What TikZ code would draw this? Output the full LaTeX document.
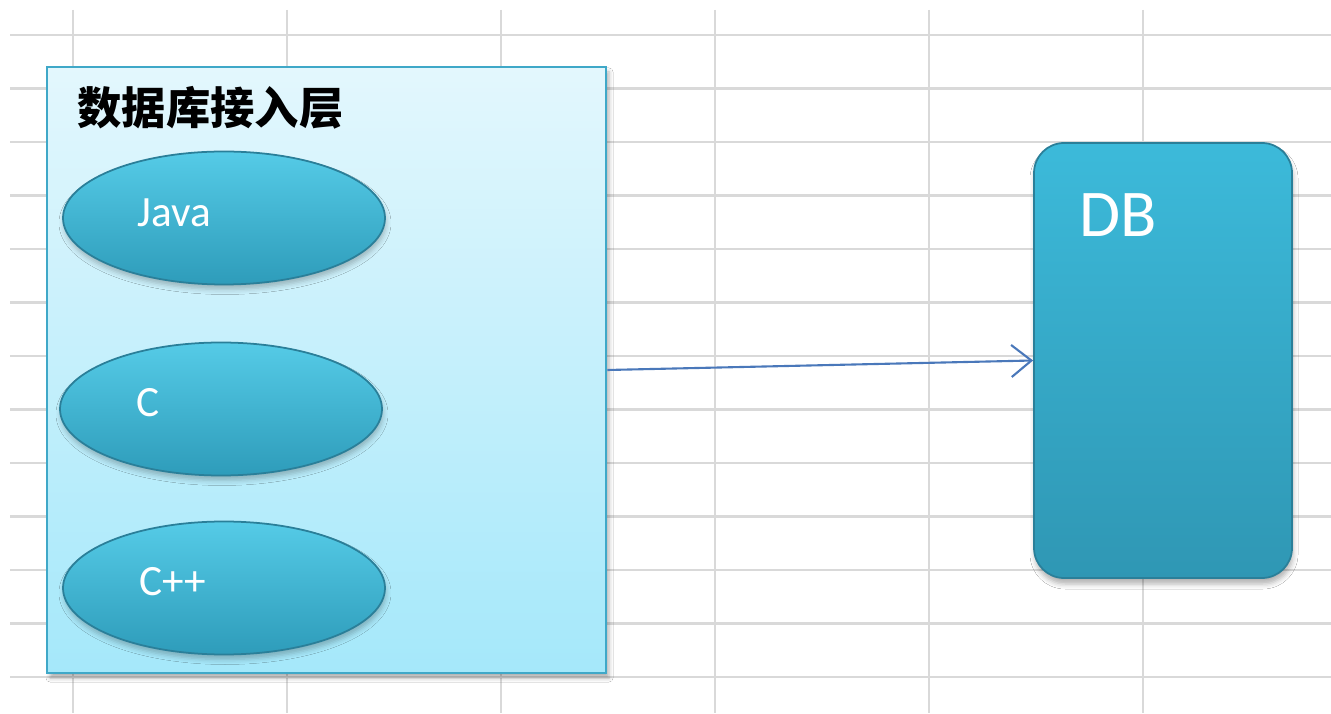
\documentclass[tikz,border=0pt]{standalone}
\usepackage{fontspec}
\newfontfamily\cjk{Noto Sans CJK SC}
\newfontfamily\latinsf{Carlito}
\usepackage{tikz}
\usetikzlibrary{positioning,calc,arrows.meta,shapes.geometric,shadows.blur}

\definecolor{gridgray}{HTML}{D9D9D9}
\definecolor{layeredge}{HTML}{3FA8C8}
\definecolor{layertop}{HTML}{E3F7FD}
\definecolor{layerbottom}{HTML}{A5E8FA}
\definecolor{ovaledge}{HTML}{2A7F99}
\definecolor{ovaltop}{HTML}{55CBE7}
\definecolor{ovalmid}{HTML}{38B4D4}
\definecolor{ovalbottom}{HTML}{2E9CBA}
\definecolor{dbtop}{HTML}{3CBADA}
\definecolor{dbbottom}{HTML}{2F97B4}
\definecolor{flowblue}{HTML}{4A78BA}

\tikzset{
  gridline/.style={draw=gridgray, line width=0.6pt},
  layerbox/.style={draw=layeredge, line width=0.8pt, top color=layertop,
    bottom color=layerbottom, minimum width=5.59cm, minimum height=6.06cm,
    blur shadow={shadow xshift=0.03cm, shadow yshift=-0.05cm,
      shadow blur radius=0.04cm, shadow opacity=30}},
  langnode/.style={ellipse, draw=ovaledge, line width=0.5pt, top color=ovaltop,
    middle color=ovalmid, bottom color=ovalbottom, minimum width=3.22cm,
    minimum height=1.33cm, inner sep=0pt,
    blur shadow={shadow xshift=0.01cm, shadow yshift=-0.05cm,
      shadow blur radius=0.05cm, shadow opacity=25}},
  langtext/.style={text=white, font=\latinsf\fontsize{12.3}{14}\selectfont,
    inner sep=0pt, anchor=base west},
  dbnode/.style={draw=ovaledge, line width=0.5pt, rounded corners=0.3cm,
    top color=dbtop, bottom color=dbbottom, minimum width=2.58cm,
    minimum height=4.35cm,
    blur shadow={shadow xshift=0.01cm, shadow yshift=-0.06cm,
      shadow blur radius=0.05cm, shadow opacity=30}},
  flow/.style={draw=flowblue, line width=0.6pt,
    -{Straight Barb[length=0.2cm, width=0.32cm]}}
}

\begin{document}
\begin{tikzpicture}
\fill[white] (0,0) rectangle (13.31,7.13);
\useasboundingbox (0,0) rectangle (13.31,7.13);
\foreach \k in {0,...,12}
  \draw[gridline] (0.10,{6.78-0.535*\k}) -- (13.31,{6.78-0.535*\k});
\foreach \k in {0,...,5}
  \draw[gridline] ({0.73+2.14*\k},7.03) -- ({0.73+2.14*\k},0);

\node[layerbox] (layer) at (3.265,3.43) {};
\node[anchor=west, inner sep=0pt, font=\cjk\bfseries\fontsize{12.6}{14}\selectfont]
  (title) at (0.77,6.055) {数据库接入层};

\node[langnode] (java) at (2.24,4.95) {};
\node[langnode] (c) at (2.21,3.04) {};
\node[langnode] (cpp) at (2.24,1.25) {};
\node[langtext] (javatext) at ($(java.west)+(0.75,-0.09)$) {Java};
\node[langtext] (ctext) at ($(c.west)+(0.77,-0.08)$) {C};
\node[langtext] (cpptext) at ($(cpp.west)+(0.77,-0.07)$) {C++};

\node[dbnode] (db) at (11.63,3.525) {};
\node[langtext, font=\latinsf\fontsize{19}{22}\selectfont]
  (dbtext) at ($(db.north west)+(0.46,-0.94)$) {DB};

\draw[flow] (layer.east) -- (db.west);
\end{tikzpicture}
\end{document}
